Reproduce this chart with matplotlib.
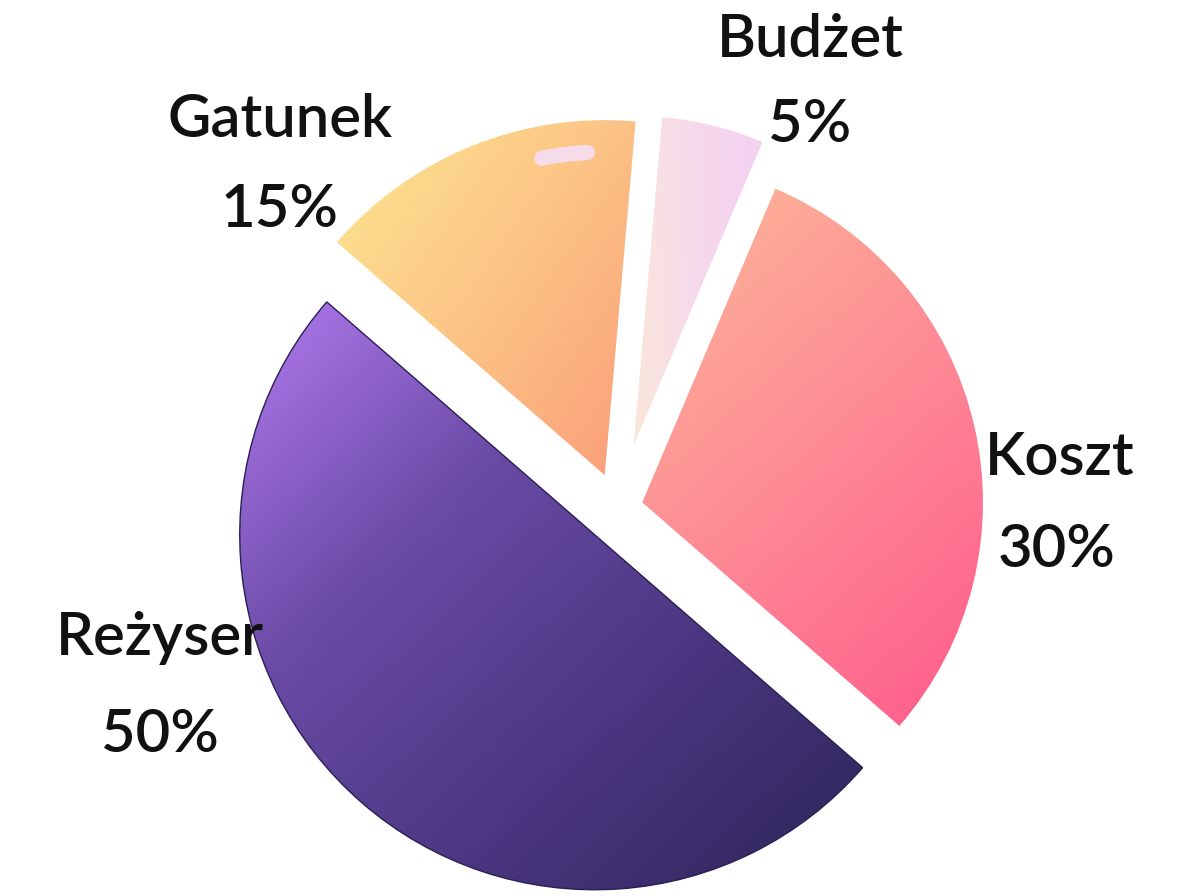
import matplotlib
matplotlib.use('Agg')
import matplotlib.pyplot as plt
import numpy as np
from matplotlib.colors import LinearSegmentedColormap

# dane
labels = ['Budżet', 'Koszt', 'Reżyser', 'Gatunek']
values = [5, 30, 50, 15]
pct_labels = ['5%', '30%', '50%', '15%']

# wygląd
explode = [0.18, 0.07, 0.10, 0.10]
radii = [0.93, 0.96, 1.0, 1.0]
grad = [  # (kolory gradientu, kąt gradientu)
    (['#FAE7DA', '#F6D9EC', '#F3D1F1'], 5),
    (['#FDBA98', '#FE8A95', '#FF5A8B'], -60),
    (['#B47BF0', '#6A4BA6', '#4A3680', '#2C2556'], -45),
    (['#FDE891', '#FCC486', '#FB9D79'], -40),
]
edges = [None, None, '#2A1F55', None]
# pozycje etykiet (nazwa, procent) w jednostkach promienia
label_pos = [
    ((0.541, 1.318), (0.541, 1.079)),
    ((1.245, 0.141), (1.237, -0.118)),
    ((-1.29, -0.366), (-1.29, -0.639)),
    ((-0.952, 1.093), (-0.952, 0.839)),
]


def fill_gradient(ax, wedge, colors, angle, edge):
    verts = wedge.get_path().vertices
    x0, y0 = verts.min(axis=0)
    x1, y1 = verts.max(axis=0)
    n = 256
    xx, yy = np.meshgrid(np.linspace(0, 1, n), np.linspace(0, 1, n))
    a = np.deg2rad(angle)
    t = xx * np.cos(a) + yy * np.sin(a)
    t = (t - t.min()) / (t.max() - t.min())
    cmap = LinearSegmentedColormap.from_list('g', colors)
    im = ax.imshow(t, cmap=cmap, extent=(x0, x1, y0, y1), origin='lower',
                   interpolation='bilinear', zorder=2)
    im.set_clip_path(wedge)
    wedge.set_facecolor('none')
    if edge:
        wedge.set_edgecolor(edge)
        wedge.set_linewidth(1.0)
        wedge.set_zorder(3)
    else:
        wedge.set_edgecolor('none')


fig = plt.figure(figsize=(11.98, 8.96), dpi=100)
ax = fig.add_axes([0, 0, 1, 1])

wedges, _ = ax.pie(values, explode=explode, startangle=85, counterclock=False,
                   radius=1.0)
for w, r, (cols, ang), e in zip(wedges, radii, grad, edges):
    w.set_radius(r)
    fill_gradient(ax, w, cols, ang, e)

# połysk na wycinku "Gatunek"
g = wedges[3]
span = g.theta2 - g.theta1
th = np.deg2rad(np.linspace(g.theta1 + 0.15 * span, g.theta1 + 0.30 * span, 30))
cx, cy = g.center
ax.plot(cx + 0.91 * g.r * np.cos(th), cy + 0.91 * g.r * np.sin(th),
        color='#F5DFF4', lw=11, solid_capstyle='round', alpha=0.9, zorder=3)

for name, pct, (p1, p2) in zip(labels, pct_labels, label_pos):
    ax.text(p1[0], p1[1], name, ha='center', va='center', fontsize=43,
            family='Lato', fontweight='semibold', color='#111111')
    ax.text(p2[0], p2[1], pct, ha='center', va='center', fontsize=43,
            family='Lato', fontweight='semibold', color='#111111')

ax.set_xlim(-1.741, 1.634)
ax.set_ylim(-1.093, 1.431)
ax.set_aspect('equal')
ax.axis('off')

fig.savefig('out.png', dpi=100, facecolor='white')
